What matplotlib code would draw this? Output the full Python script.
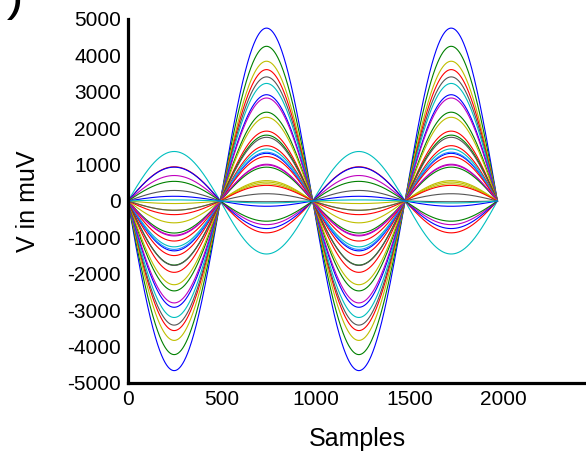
#!/usr/bin/env python

import numpy as np
import matplotlib
matplotlib.use("Agg")
import matplotlib.pyplot as plt

plt.rcParams['font.family'] = ['Liberation Sans', 'DejaVu Sans']
plt.rcParams['axes.unicode_minus'] = False

# peak of each half-period lobe (muV)
# lobe_a: samples 0-492 and 985-1477, lobe_b: samples 492-985 and 1477-1970
lobe_a = [-4660, -4220, -3830, -3560, -3410, -3200, -2920, -2800, -2470, -2300,
          -1960, -1760, -1770, -1500, -1260, -1370, -1330, -1100, -960, -880,
          -940, -600, -254, -70, -375, -255,
          1360, 940, 930, 700, 540, 290, 130, 30]
lobe_b = [4750, 4250, 3840, 3610, 3410, 3230, 2920, 2830, 2440, 2300,
          1920, 1810, 1750, 1520, 1430, 1310, 1340, 1220, 990, 930,
          1010, 560, 520, 473, 430, 200,
          -1456, -875, -757, -650, -555, -20, -145, -55]
line_colors = ['b', 'g', 'y', 'r', 'k', 'c', 'b', 'm', 'g', 'y',
               'r', 'g', 'k', 'r', 'c', 'b', '#1e90ff', 'r', 'm', 'g',
               'm', 'y', 'y', 'y', 'r', 'k',
               'c', 'r', 'b', 'm', 'g', 'k', 'b', 'c']

n_samples = 1970
half = n_samples / 4.0
xticks = [0, 500, 1000, 1500, 2000]
yticks = list(range(-5000, 5001, 1000))

cmap = {'b': '#0000ff', 'g': '#008000', 'r': '#ff0000', 'c': '#00bfbf',
        'm': '#bf00bf', 'y': '#bfbf00', 'k': '#555555'}

t = np.arange(n_samples + 1)
shape = np.abs(np.sin(np.pi * t / half))
first = (np.floor(t / half) % 2 == 0)

fig = plt.figure(figsize=(5.86, 4.54), dpi=100)
ax = fig.add_axes([128 / 586, 71 / 454, 1 - 128 / 586, (383 - 19) / 454])

for a, b, c in zip(lobe_a, lobe_b, line_colors):
    y = np.where(first, a, b) * shape
    ax.plot(t, y, color=cmap.get(c, c), lw=0.8)

ax.set_xlim(0, (586 - 128) / 0.1875)
ax.set_ylim(-5000, 5000)
ax.set_xticks(xticks)
ax.set_yticks(yticks)
ax.tick_params(length=0, labelsize=15, pad=5)
for s in ['top', 'right']:
    ax.spines[s].set_visible(False)
for s in ['left', 'bottom']:
    ax.spines[s].set_linewidth(2.3)
ax.set_xlabel("Samples", fontsize=18, labelpad=13)
ax.set_ylabel("V in muV", fontsize=18, labelpad=20)

fig.text(21 / 586, (454 - 20) / 454, ")", ha='right', va='bottom',
         fontsize=24, fontweight='bold', style='italic')

plt.savefig('out.png', dpi=100)
